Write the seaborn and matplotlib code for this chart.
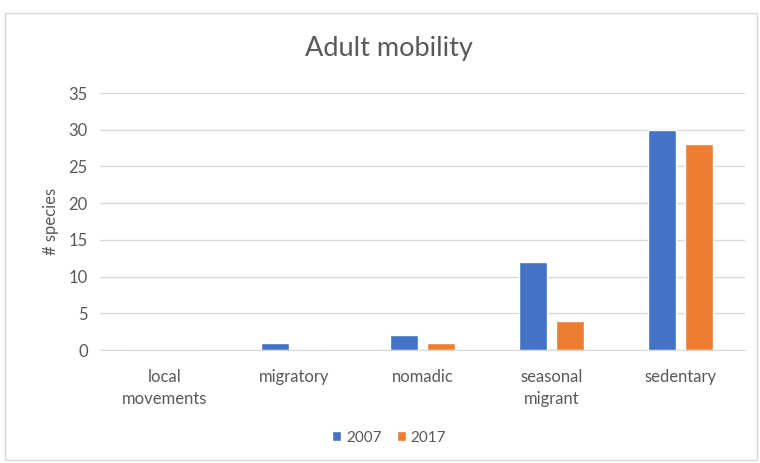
import pandas as pd
import matplotlib
matplotlib.use('Agg')
import matplotlib.pyplot as plt
import seaborn as sns
from matplotlib.patches import Rectangle

# values
categories = ['local\nmovements', 'migratory', 'nomadic', 'seasonal\nmigrant', 'sedentary']
species_2007 = [0, 1, 2, 12, 30]
species_2017 = [0, 0, 1, 4, 28]
years = ['2007', '2017']

df = pd.DataFrame({'category': categories * 2,
                   'species': species_2007 + species_2017,
                   'year': [years[0]] * 5 + [years[1]] * 5})

sns.set_style('white')
plt.rcParams['font.family'] = ['Lato', 'DejaVu Sans']
text_color = '#595959'

fig = plt.figure(figsize=(7.6, 4.63), dpi=100)
ax = fig.add_axes([0.132, 0.244, 0.848, 0.555])

sns.barplot(data=df, x='category', y='species', hue='year', ax=ax,
            palette=['#4472C4', '#ED7D31'], width=0.57, gap=0.23,
            saturation=1, legend=True)

ax.set_ylim(0, 35)
ax.set_yticks(range(0, 36, 5))
ax.yaxis.grid(True, color='#D9D9D9', linewidth=1)
ax.set_axisbelow(True)
for s in ['top', 'right', 'left']:
    ax.spines[s].set_visible(False)
ax.spines['bottom'].set_color('#D9D9D9')
ax.tick_params(axis='both', length=0, colors=text_color, labelsize=12)
ax.tick_params(axis='x', pad=14)
ax.tick_params(axis='y', pad=9)
for lbl in ax.get_xticklabels():
    lbl.set_linespacing(1.45)
ax.set_xlabel('')
ax.set_ylabel('# species', color=text_color, fontsize=12, labelpad=7)

fig.text(0.512, 0.895, 'Adult mobility', ha='center', va='center',
         fontsize=19.5, color=text_color)

handles, labels = ax.get_legend_handles_labels()
ax.legend_.remove()
fig.legend(handles, labels, loc='center', bbox_to_anchor=(0.512, 0.055),
           ncol=2, frameon=False, fontsize=11, handlelength=0.6,
           handleheight=0.6, handletextpad=0.3, columnspacing=1.0,
           labelcolor=text_color)

fig.patches.append(Rectangle((5 / 760, 3 / 463), 752 / 760, 447 / 463,
                             transform=fig.transFigure, fill=False,
                             edgecolor='#D9D9D9', linewidth=1))

fig.savefig('out.png', dpi=100, facecolor='white')
